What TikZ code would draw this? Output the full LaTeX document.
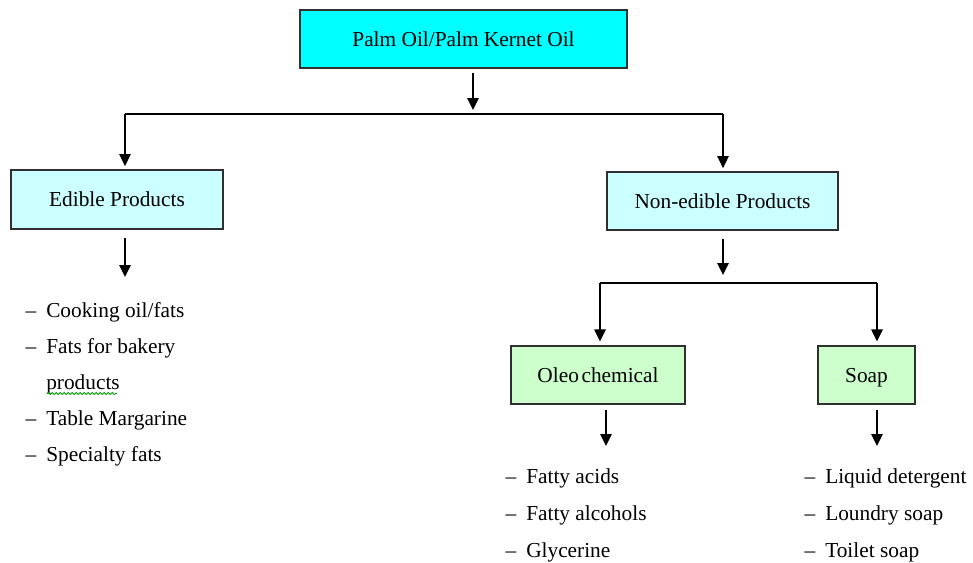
\documentclass[tikz,border=0pt]{standalone}
\usepackage{fontspec}
\setmainfont{Liberation Serif}
\usetikzlibrary{arrows.meta,decorations.pathmorphing}
\definecolor{topcyan}{HTML}{00FFFF}
\definecolor{palecyan}{HTML}{CCFFFF}
\definecolor{palegreen}{HTML}{CCFFCC}
\definecolor{framegray}{HTML}{303030}
\definecolor{spellgreen}{HTML}{00A000}
\begin{document}
\begin{tikzpicture}[x=0.75pt,y=-0.75pt,
  font=\fontsize{16}{19}\selectfont,
  box/.style={draw=framegray, line width=0.8pt, inner sep=0pt, align=center,
    text height=11pt, text depth=0.5pt},
  arr/.style={-{Triangle[width=8.5pt,length=9pt]}, line width=1.2pt},
  link/.style={line width=1.2pt},
  item/.style={anchor=base west, inner sep=0pt}]
\useasboundingbox (0,0) rectangle (973,562);

% category boxes
\node[box, fill=topcyan, minimum width=245.25pt, minimum height=43.5pt]
  (top) at (463.5,39) {Palm Oil/Palm Kernet Oil};
\node[box, fill=palecyan, minimum width=159pt, minimum height=44.25pt]
  (edible) at (117,199.5) {Edible Products};
\node[box, fill=palecyan, minimum width=173.25pt, minimum height=43.5pt]
  (nonedible) at (722.5,201) {Non-edible Products};
\node[box, fill=palegreen, minimum width=130.5pt, minimum height=43.5pt]
  (oleo) at (598,375) {Oleo\kern2pt chemical};
\node[box, fill=palegreen, minimum width=72.75pt, minimum height=43.5pt]
  (soap) at (866.5,375) {Soap};

% junction points of the connectors
\coordinate (j1) at (473,114);
\coordinate (j1L) at (125,114);
\coordinate (j1R) at (723,114);
\coordinate (j2) at (723,283);
\coordinate (j2L) at (600,283);
\coordinate (j2R) at (877,283);
\coordinate (eL) at (125,277);
\coordinate (oL) at (606,446);
\coordinate (sL) at (877,446);

% connectors
\draw[arr, shorten >=3pt] ([yshift=-3pt]top.south -| j1) -- (j1);
\draw[link] (j1L) -- (j1R);
\draw[arr, shorten >=2.5pt] (j1L) -- (j1L |- edible.north);
\draw[arr, shorten >=2.5pt] (j1R) -- (j1R |- nonedible.north);
\draw[arr] ([yshift=-6pt]edible.south -| eL) -- (eL);
\draw[arr, shorten >=6pt] ([yshift=-6pt]nonedible.south -| j2) -- (j2);
\draw[link] (j2L) -- (j2R);
\draw[arr, shorten >=3pt] (j2L) -- (j2L |- oleo.north);
\draw[arr, shorten >=3pt] (j2R) -- (j2R |- soap.north);
\draw[arr] ([yshift=-4pt]oleo.south -| oL) -- (oL);
\draw[arr] ([yshift=-4pt]soap.south -| sL) -- (sL);

% edible products list
\node[item] (e1) at (46,317) {\llap{--\kern7.5pt}Cooking oil/fats};
\node[item] (e2) at (46,353) {\llap{--\kern7.5pt}Fats for bakery};
\node[item] (e3) at (46,389) {products};
\node[item] (e4) at (46,425) {\llap{--\kern7.5pt}Table Margarine};
\node[item] (e5) at (46,461) {\llap{--\kern7.5pt}Specialty fats};
\draw[spellgreen, line width=0.6pt,
  decorate, decoration={snake, amplitude=0.8pt, segment length=3pt}]
  (47,393.5) -- (117,393.5);

% oleochemical list
\node[item] (o1) at (526,483) {\llap{--\kern7.5pt}Fatty acids};
\node[item] (o2) at (526,520) {\llap{--\kern7.5pt}Fatty alcohols};
\node[item] (o3) at (526,557) {\llap{--\kern7.5pt}Glycerine};

% soap list
\node[item] (s1) at (825,483) {\llap{--\kern7.5pt}Liquid detergent};
\node[item] (s2) at (825,520) {\llap{--\kern7.5pt}Loundry soap};
\node[item] (s3) at (825,557) {\llap{--\kern7.5pt}Toilet soap};
\end{tikzpicture}
\end{document}
